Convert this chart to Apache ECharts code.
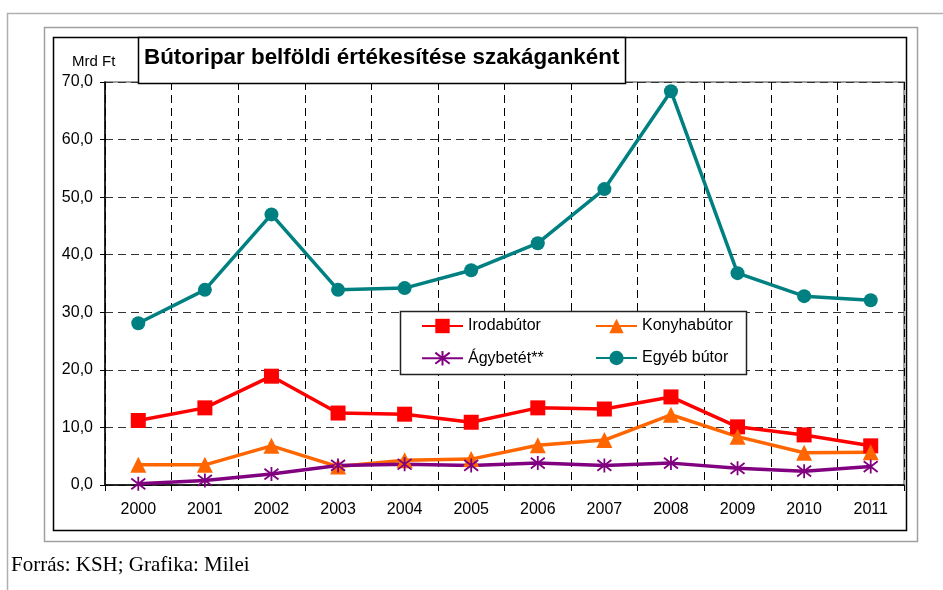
<!DOCTYPE html>
<html>
<head>
<meta charset="utf-8">
<script src="https://cdn.jsdelivr.net/npm/echarts@6/dist/echarts.min.js"></script>
<style>
  html, body { margin: 0; padding: 0; background: #fff; }
  #chart { width: 943px; height: 590px; }
</style>
</head>
<body>
<div id="chart"></div>
<script>
  // évek (kategóriák)
  const years = ['2000', '2001', '2002', '2003', '2004', '2005', '2006', '2007', '2008', '2009', '2010', '2011']
  // adatsorok, Mrd Ft
  const irodabutor = [11.2, 13.4, 18.9, 12.5, 12.3, 10.9, 13.4, 13.2, 15.3, 10.1, 8.7, 6.8]
  const konyhabutor = [3.5, 3.5, 6.8, 3.2, 4.3, 4.5, 6.9, 7.8, 12.2, 8.4, 5.6, 5.7]
  const agybetet = [0.2, 0.8, 1.9, 3.4, 3.6, 3.4, 3.8, 3.4, 3.8, 2.9, 2.4, 3.2]
  const egyebButor = [28.1, 33.9, 47.0, 33.9, 34.2, 37.3, 42.0, 51.4, 68.4, 36.8, 32.8, 32.1]
  const seriesNames = ['Irodabútor', 'Konyhabútor', 'Ágybetét**', 'Egyéb bútor']

  const font = '"Liberation Sans", Arial, sans-serif'
  // csillag jelölő (X + függőleges vonal)
  const asterisk = 'path://M0,0L10,10M10,0L0,10M5,-1.5L5,11.5'

  const chart = echarts.init(document.getElementById('chart'))

  const mkLine = (name, data, color, symbol, size, extra) => Object.assign({
    name: name,
    type: 'line',
    data: data,
    symbol: symbol,
    symbolSize: size,
    showSymbol: true,
    animation: false,
    lineStyle: { color: color, width: 3.5 },
    itemStyle: { color: color }
  }, extra || {})

  // jelmagyarázat: egy elem / legend, 2x2 elrendezés
  const legendPos = [[421, 318], [595, 318], [421, 350], [595, 350]]
  const legends = seriesNames.map((name, i) => ({
    data: [name],
    left: legendPos[i][0], top: legendPos[i][1], padding: 0,
    itemWidth: 41, itemHeight: 18,
    textStyle: { fontFamily: font, fontSize: 16, color: '#000' },
    z: 10
  }))

  const option = {
    animation: false,
    grid: {
      left: 105, right: 39, top: 82, bottom: 105,
      show: true, borderColor: '#808080', borderWidth: 1.5, backgroundColor: '#fff'
    },
    legend: legends,
    xAxis: {
      type: 'category',
      data: years,
      boundaryGap: true,
      axisLine: { lineStyle: { color: '#000', width: 1.5 } },
      axisTick: { show: true, interval: 0, length: 6, lineStyle: { color: '#000' } },
      axisLabel: { interval: 0, margin: 17, color: '#000', fontFamily: font, fontSize: 16 },
      splitLine: { show: true, interval: 0, lineStyle: { color: '#000', type: [8, 5], width: 1 } }
    },
    yAxis: {
      type: 'value',
      min: 0, max: 70, interval: 10,
      axisLine: { show: true, lineStyle: { color: '#000', width: 1.5 } },
      axisTick: { show: true, length: 5, lineStyle: { color: '#000' } },
      axisLabel: {
        margin: 12, color: '#000', fontFamily: font, fontSize: 16,
        formatter: (v) => v.toFixed(1).replace('.', ',')
      },
      splitLine: { show: true, lineStyle: { color: '#333', type: [8, 5], width: 1 } }
    },
    graphic: [
      // külső keretek
      { type: 'polyline', z: 0, shape: { points: [[7.5, 590], [7.5, 13.5], [943, 13.5]] }, style: { stroke: '#b0b0b0', lineWidth: 1.5, fill: null } },
      { type: 'rect', z: -1, shape: { x: 44.5, y: 27.5, width: 873, height: 514 }, style: { stroke: '#a0a0a0', lineWidth: 1.5, fill: '#fff' } },
      { type: 'rect', z: -1, shape: { x: 53.5, y: 37.5, width: 853, height: 493 }, style: { stroke: '#000', lineWidth: 1.5, fill: '#fff' } },
      // cím doboz
      { type: 'rect', z: 20, shape: { x: 138.5, y: 37.5, width: 487, height: 46 }, style: { stroke: '#000', lineWidth: 1.5, fill: '#fff' } },
      { type: 'text', z: 21, left: 144, top: 47, style: { text: 'Bútoripar belföldi értékesítése szakáganként', font: 'bold 22.4px ' + font, fill: '#000' } },
      // mértékegység
      { type: 'text', z: 21, left: 72, top: 54, style: { text: 'Mrd Ft', font: '15px ' + font, fill: '#000' } },
      // jelmagyarázat doboz
      { type: 'rect', z: 8, shape: { x: 400.5, y: 311.5, width: 346, height: 63 }, style: { stroke: '#222', lineWidth: 1.5, fill: '#fff' } },
      // forrás
      { type: 'text', z: 21, left: 11, top: 555, style: { text: 'Forrás: KSH; Grafika: Milei', font: '21px "Liberation Serif", "Times New Roman", serif', fill: '#000' } }
    ],
    series: [
      mkLine(seriesNames[0], irodabutor, '#ff0000', 'rect', 15),
      mkLine(seriesNames[1], konyhabutor, '#ff6600', 'triangle', 16),
      mkLine(seriesNames[2], agybetet, '#800080', asterisk, 14, {
        itemStyle: { color: '#800080', borderColor: '#800080', borderWidth: 1.8 }
      }),
      mkLine(seriesNames[3], egyebButor, '#008080', 'circle', 14)
    ]
  }

  chart.setOption(option)
</script>
</body>
</html>
